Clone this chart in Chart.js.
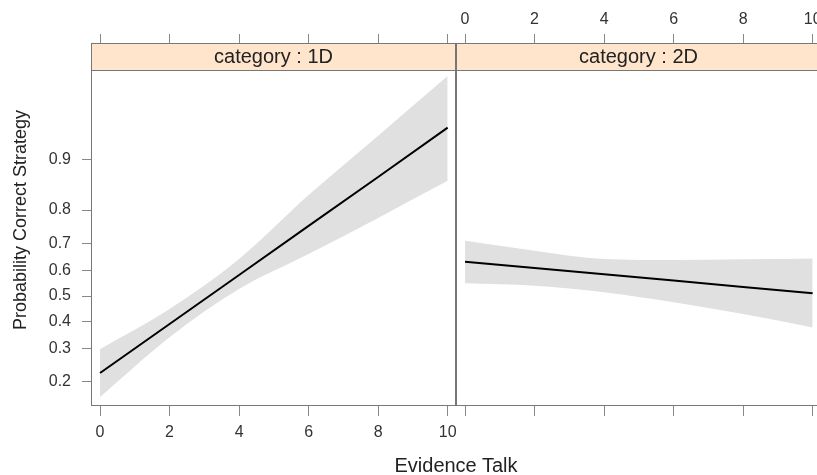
<!DOCTYPE html>
<html>
<head>
<meta charset="utf-8">
<script src="https://cdn.jsdelivr.net/npm/chart.js@4/dist/chart.umd.min.js"></script>
<style>
  body { margin: 0; background: #fff; overflow: hidden; }
  #wrap { position: relative; width: 817px; height: 475px; overflow: hidden; font-family: "Liberation Sans", Arial, sans-serif; }
  #c1 { position: absolute; left: 0; top: 0; }
  #c2 { position: absolute; left: 452px; top: 0; }
  #xlab { position: absolute; left: 356px; width: 200px; top: 454px; text-align: center; font-size: 20px; color: #222; }
</style>
</head>
<body>
<div id="wrap">
  <canvas id="c1" width="470" height="475"></canvas>
  <canvas id="c2" width="400" height="475"></canvas>
  <div id="xlab">Evidence Talk</div>
</div>
<script>
// ===== datos =====
const evidence = [0, 2, 4, 6, 8, 10];
const fit1D   = [0.224, 0.389, 0.584, 0.756, 0.872, 0.938];
const upper1D = [0.298, 0.448, 0.645, 0.836, 0.930, 0.972];
const lower1D = [0.164, 0.340, 0.528, 0.663, 0.779, 0.865];
const fit2D   = [0.635, 0.611, 0.587, 0.562, 0.536, 0.511];
const upper2D = [0.709, 0.675, 0.645, 0.641, 0.644, 0.647];
const lower2D = [0.551, 0.541, 0.515, 0.475, 0.428, 0.376];
const probTicks = [0.2, 0.3, 0.4, 0.5, 0.6, 0.7, 0.8, 0.9];
const xTicks = [0, 2, 4, 6, 8, 10];

const logit = p => Math.log(p / (1 - p));
const invLogit = v => 1 / (1 + Math.exp(-v));
const puntos = (ys) => evidence.map((x, i) => ({ x: x, y: logit(ys[i]) }));

Chart.defaults.font.family = '"Liberation Sans", Arial, sans-serif';
Chart.defaults.color = '#333';
Chart.defaults.animation = false;

const TICK_COLOR = '#888';
const BAND_COLOR = '#e0e0e0';

// franja tipo lattice + caja del panel
function stripPlugin(label) {
  return {
    id: 'strip',
    afterDatasetsDraw(chart) {
      const a = chart.chartArea;
      const ctx = chart.ctx;
      ctx.save();
      ctx.fillStyle = '#ffe5cc';
      ctx.fillRect(a.left, a.top, a.right - a.left, 27);
      ctx.strokeStyle = '#777';
      ctx.lineWidth = 1;
      ctx.strokeRect(a.left + 0.5, a.top + 0.5, a.right - a.left - 1, 27);
      ctx.strokeRect(a.left + 0.5, a.top + 0.5, a.right - a.left - 1, a.bottom - a.top - 1);
      ctx.fillStyle = '#222';
      ctx.font = '20px "Liberation Sans", Arial, sans-serif';
      ctx.textAlign = 'center';
      ctx.textBaseline = 'middle';
      ctx.fillText(label, (a.left + a.right) / 2, a.top + 14);
      ctx.restore();
    }
  };
}

const yTitlePlugin = {
  id: 'ytitle',
  afterDraw(chart) {
    const ctx = chart.ctx;
    ctx.save();
    ctx.translate(21, 220);
    ctx.rotate(-Math.PI / 2);
    ctx.fillStyle = '#222';
    ctx.font = '18px "Liberation Sans", Arial, sans-serif';
    ctx.textAlign = 'center';
    ctx.textBaseline = 'middle';
    ctx.fillText('Probability Correct Strategy', 0, 0);
    ctx.restore();
  }
};

function crearPanel(canvasId, fit, upper, lower, label, esIzquierdo) {
  return new Chart(document.getElementById(canvasId), {
    type: 'line',
    data: {
      datasets: [
        { data: puntos(fit), borderColor: '#000', borderWidth: 2, pointRadius: 0, fill: false, order: 0 },
        { data: puntos(upper), borderWidth: 0, borderColor: 'rgba(0,0,0,0)', backgroundColor: BAND_COLOR,
          pointRadius: 0, fill: '+1', cubicInterpolationMode: 'monotone', order: 1 },
        { data: puntos(lower), borderWidth: 0, borderColor: 'rgba(0,0,0,0)', pointRadius: 0,
          fill: false, cubicInterpolationMode: 'monotone', order: 2 }
      ]
    },
    options: {
      responsive: false,
      layout: { padding: esIzquierdo ? { left: 0, right: 14, top: 0, bottom: 29 } : { left: 4, right: 31, top: 0, bottom: 29 } },
      plugins: { legend: { display: false }, tooltip: { enabled: false } },
      scales: {
        x: {
          type: 'linear', position: 'bottom', min: -0.26, max: 10.24,
          afterBuildTicks: s => { s.ticks = xTicks.map(v => ({ value: v })); },
          afterFit: s => { s.height = 40; },
          border: { display: false },
          grid: { drawOnChartArea: false, tickLength: 10, color: TICK_COLOR },
          ticks: { display: esIzquierdo, padding: 7, font: { size: 16 }, maxRotation: 0, callback: v => String(v) }
        },
        x2: {
          type: 'linear', position: 'top', min: -0.26, max: 10.24,
          afterBuildTicks: s => { s.ticks = xTicks.map(v => ({ value: v })); },
          afterFit: s => { s.height = 43; },
          border: { display: false },
          grid: { drawOnChartArea: false, tickLength: 9, color: TICK_COLOR },
          ticks: { display: !esIzquierdo, padding: 5, font: { size: 16 }, maxRotation: 0, callback: v => String(v) }
        },
        y: {
          type: 'linear', position: 'left', min: -1.774, max: 4.081,
          display: esIzquierdo,
          afterBuildTicks: s => { s.ticks = probTicks.map(p => ({ value: logit(p) })); },
          afterFit: s => { if (esIzquierdo) s.width = 91; },
          border: { display: false },
          grid: { drawOnChartArea: false, tickLength: 9, color: TICK_COLOR },
          ticks: { padding: 11, font: { size: 16 }, callback: v => invLogit(v).toFixed(1) }
        }
      }
    },
    plugins: esIzquierdo ? [stripPlugin(label), yTitlePlugin] : [stripPlugin(label)]
  });
}

crearPanel('c1', fit1D, upper1D, lower1D, 'category : 1D', true);
crearPanel('c2', fit2D, upper2D, lower2D, 'category : 2D', false);
</script>
</body>
</html>
